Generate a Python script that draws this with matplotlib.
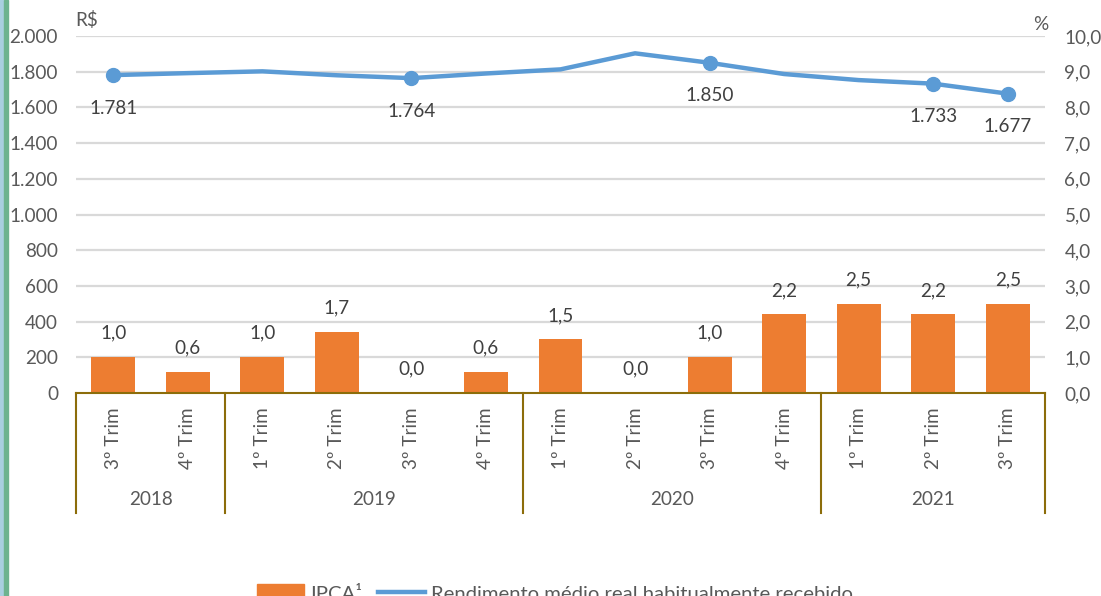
import numpy as np
import matplotlib.pyplot as plt
from matplotlib.patches import Rectangle

plt.rcParams['font.family'] = ['Lato', 'DejaVu Sans']

# Dados
trimestres = ['3º Trim', '4º Trim', '1º Trim', '2º Trim', '3º Trim', '4º Trim',
              '1º Trim', '2º Trim', '3º Trim', '4º Trim', '1º Trim', '2º Trim', '3º Trim']
anos = ['2018', '2019', '2020', '2021']
trim_por_ano = [2, 4, 4, 3]
rendimento = [1781, 1792, 1802, 1780, 1764, 1790, 1813, 1903, 1850, 1787, 1753, 1733, 1677]
ipca = [1.0, 0.6, 1.0, 1.7, 0.0, 0.6, 1.5, 0.0, 1.0, 2.2, 2.5, 2.2, 2.5]
pontos_rotulados = [0, 4, 8, 11, 12]

cor_barra = '#ED7D31'
cor_linha = '#5B9BD5'
cor_texto = '#595959'
cor_eixo = '#8C6D0A'
fs = 13.6

fig = plt.figure(figsize=(11.01, 5.96), dpi=100)
ax = fig.add_axes([76 / 1101, 1 - 393 / 596, (1045 - 76) / 1101, (393 - 36) / 596])
ax2 = ax.twinx()

x = np.arange(len(trimestres))

# barras IPCA no eixo direito
ax2.bar(x, ipca, width=0.59, color=cor_barra, zorder=2)
ax2.set_ylim(0, 10)
ax2.set_yticks(np.arange(0, 10.1, 1))
ax2.set_yticklabels([f'{v:.1f}'.replace('.', ',') for v in np.arange(0, 10.1, 1)])
for xi, v in zip(x, ipca):
    ax2.annotate(f'{v:.1f}'.replace('.', ','), (xi, v), xytext=(0, 24),
                 textcoords='offset pixels', ha='center', va='center',
                 fontsize=fs, color='#404040')

# linha do rendimento no eixo esquerdo
ax.set_zorder(ax2.get_zorder() + 1)
ax.patch.set_visible(False)
ax.plot(x, rendimento, color=cor_linha, lw=3.2, marker='o', markersize=10,
        markevery=pontos_rotulados, solid_capstyle='round', zorder=3)
for i in pontos_rotulados:
    ax.annotate(f'{rendimento[i]:,}'.replace(',', '.'), (x[i], rendimento[i]),
                xytext=(0, -33), textcoords='offset pixels', ha='center', va='center',
                fontsize=fs, color='#404040')

ax.set_ylim(0, 2000)
ax.set_yticks(np.arange(0, 2001, 200))
ax.set_yticklabels([f'{v:,}'.replace(',', '.') for v in range(0, 2001, 200)])
ax.set_xlim(-0.5, len(x) - 0.5)
ax.set_xticks([])
ax2.set_xticks([])

# grade
for v in np.arange(200, 2001, 200):
    ax2.axhline(v / 200, color='#D9D9D9', lw=1.6, zorder=0)

for a in (ax, ax2):
    for s in a.spines.values():
        s.set_visible(False)
    a.tick_params(axis='y', length=0, labelsize=fs, labelcolor=cor_texto)
ax.tick_params(axis='y', pad=13)
ax2.tick_params(axis='y', pad=14)

# eixo x com categorias em dois niveis
ax.axhline(0, color=cor_eixo, lw=1.5, zorder=4, clip_on=False)
trans = ax.get_xaxis_transform()
for xi, t in zip(x, trimestres):
    ax.text(xi, -0.126, t, rotation=90, ha='center', va='center', transform=trans,
            fontsize=fs, color=cor_texto)
inicio = 0
limites = [-0.5]
for ano, n in zip(anos, trim_por_ano):
    ax.text(inicio + (n - 1) / 2, -0.298, ano, ha='center', va='center',
            transform=trans, fontsize=fs, color=cor_texto)
    inicio += n
    limites.append(inicio - 0.5)
for b in limites:
    ax.plot([b, b], [0, -0.336], color=cor_eixo, lw=1.5, transform=trans, clip_on=False)

fig.text(75 / 1101, 1 - 20 / 596, 'R$', fontsize=fs, color=cor_texto, va='center')
fig.text(1033 / 1101, 1 - 25 / 596, '%', fontsize=fs, color=cor_texto, va='center')

# legenda (cortada na borda inferior)
h1 = Rectangle((0, 0), 1, 1, color=cor_barra)
h2 = plt.Line2D([0], [0], color=cor_linha, lw=3.2)
fig.legend([h1, h2], ['IPCA¹', 'Rendimento médio real habitualmente recebido'],
           loc='center', bbox_to_anchor=(0.504, 0.004), ncol=2, frameon=False,
           fontsize=14.6, labelcolor=cor_texto, handlelength=2.35, handleheight=0.9,
           columnspacing=0.75, handletextpad=0.3)

# borda esquerda
fig.add_artist(Rectangle((0, 0), 3 / 1101, 1, transform=fig.transFigure, color='#A9CFE0'))
fig.add_artist(Rectangle((4 / 1101, 0), 4 / 1101, 1, transform=fig.transFigure, color='#6DB38F'))

fig.savefig('out.png', dpi=100)
